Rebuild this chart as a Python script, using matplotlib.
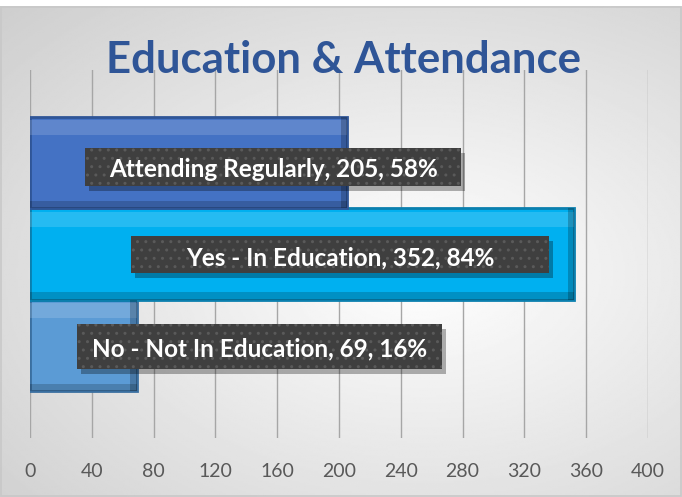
import numpy as np
import matplotlib.pyplot as plt
from matplotlib.patches import Rectangle

categories = ['No - Not In Education', 'Yes - In Education', 'Attending Regularly']
counts = [69, 352, 205]
percents = ['16%', '84%', '58%']
bar_colors = ['#5b9bd5', '#00b0f0', '#4472c4']
edge_colors = ['#3a6fa0', '#0a7fae', '#2f5597']
xticks = [0, 40, 80, 120, 160, 200, 240, 280, 320, 360, 400]

# label placement (data units) and box styling (pixels)
label_x = [148.5, 200.6, 157.3]
label_y = [-0.12, 0.88, 1.84]
box_y = [-0.01, 0.99, 1.95]
box_pad_x = [15, 55, 24]
box_h = [45, 37, 38]

plt.rcParams['font.family'] = ['Lato', 'DejaVu Sans']

fig = plt.figure(figsize=(6.82, 4.97), dpi=100)

# soft radial gradient background
bg = fig.add_axes([0, 0, 1, 1], zorder=0)
yy, xx = np.mgrid[0:1:300j, 0:1:400j]
r = np.sqrt(((xx - 0.62) / 0.9) ** 2 + ((yy - 0.55) / 0.8) ** 2)
bg.imshow(np.clip(1 - 0.2 * r, 0, 1), cmap='gray', vmin=0, vmax=1,
          extent=[0, 1, 0, 1], aspect='auto')
bg.add_patch(Rectangle((0.002, 0.002), 0.996, 0.984, fill=False,
                       ec='#c8c8c8', lw=1.2, transform=bg.transAxes))
bg.add_patch(Rectangle((0, 0.988), 1, 0.012, color='white', lw=0,
                       transform=bg.transAxes))
bg.set_xlim(0, 1)
bg.set_ylim(0, 1)
bg.axis('off')

ax = fig.add_axes([30 / 682, 59 / 497, 618 / 682, 368 / 497], zorder=1)
ax.set_facecolor('none')
y = np.arange(len(categories))
ax.barh(y, counts, height=1.0, color=bar_colors, edgecolor=edge_colors,
        linewidth=2, zorder=2)
# bevel highlights
for i, v in enumerate(counts):
    ax.add_patch(Rectangle((0, i + 0.3), v, 0.16, color='white', alpha=0.15,
                           lw=0, zorder=3))
    ax.add_patch(Rectangle((0, i - 0.5), v, 0.08, color='black', alpha=0.18,
                           lw=0, zorder=3))
    ax.add_patch(Rectangle((v - 4, i - 0.5), 4, 1.0, color='black', alpha=0.22,
                           lw=0, zorder=3))

labels = []
for i in range(len(categories)):
    txt = '{}, {}, {}'.format(categories[i], counts[i], percents[i])
    t = ax.text(label_x[i], label_y[i], txt, ha='center', va='baseline',
                fontsize=17.5, fontweight='bold', color='white', zorder=6)
    labels.append(t)

ax.set_xlim(0, 400)
ax.set_ylim(-1.01, 3.01)
ax.set_xticks(xticks)
ax.set_yticks([])
ax.grid(axis='x', color='#a6a6a6', linewidth=1, zorder=0)
ax.set_axisbelow(True)
ax.tick_params(axis='x', length=0, pad=18, labelsize=14, labelcolor='#595959')
for s in ax.spines.values():
    s.set_visible(False)

fig.text(344 / 682, 1 - 60 / 497, 'Education & Attendance', ha='center',
         va='center', fontsize=31.5, fontweight='bold', color='#2f5597')

# dark dotted boxes with drop shadows behind the labels
fig.canvas.draw()
inv = ax.transData.inverted()
for i, t in enumerate(labels):
    ext = t.get_window_extent()
    cy = ax.transData.transform((0, box_y[i]))[1]
    x0p, x1p = ext.x0 - box_pad_x[i], ext.x1 + box_pad_x[i]
    y0p, y1p = cy - box_h[i] / 2, cy + box_h[i] / 2
    (x0, y0), (x1, y1) = inv.transform([[x0p, y0p], [x1p, y1p]])
    (sx0, sy0), (sx1, sy1) = inv.transform([[x0p + 4, y0p - 5], [x1p + 4, y1p - 5]])
    ax.add_patch(Rectangle((sx0, sy0), sx1 - sx0, sy1 - sy0, color='black',
                           alpha=0.3, lw=0, zorder=4))
    ax.add_patch(Rectangle((x0, y0), x1 - x0, y1 - y0, fc='#3f3f3f',
                           ec='#5a5a5a', lw=0, hatch='..', zorder=5))

plt.savefig('out.png', dpi=100)
